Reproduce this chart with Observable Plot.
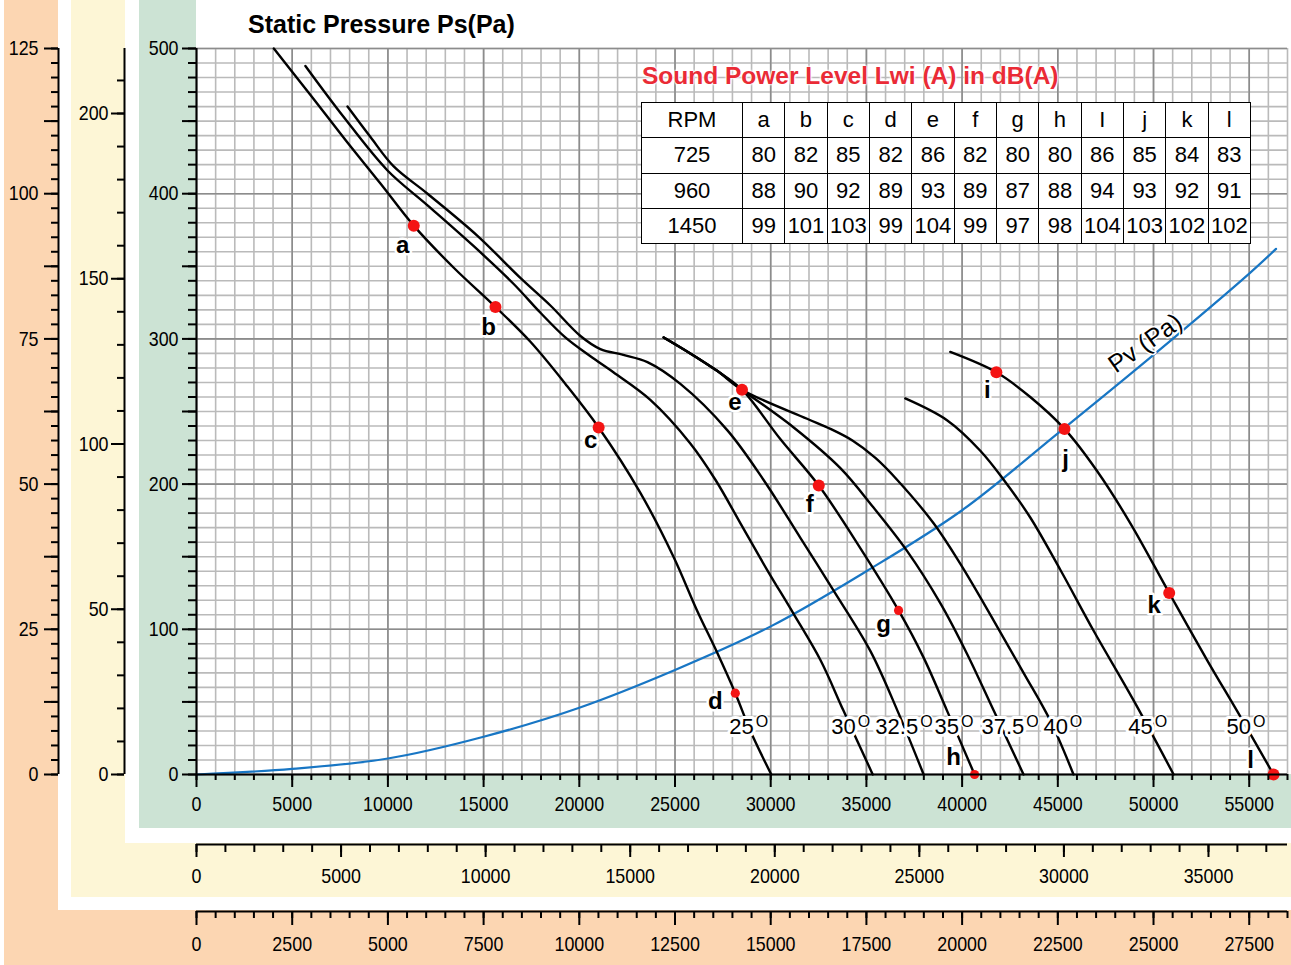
<!DOCTYPE html>
<html>
<head>
<meta charset="utf-8">
<script src="https://cdn.jsdelivr.net/npm/d3@7"></script>
<script src="https://cdn.jsdelivr.net/npm/@observablehq/plot@0.6"></script>
<style>
  html, body { margin: 0; padding: 0; background: #fff; }
  #wrap { position: relative; width: 1291px; height: 965px; overflow: hidden; background: #fff; }
  .bg { position: absolute; }
  .layer { position: absolute; left: 0; top: 0; pointer-events: none; }
  .layer svg { display: block; }
  #title { position: absolute; left: 248px; top: 12px; font: bold 25px/25px "Liberation Sans", Arial, sans-serif; color: #000; white-space: nowrap; }
  #lwiTitle { position: absolute; left: 642px; top: 64px; font: bold 24.5px/24.5px "Liberation Sans", Arial, sans-serif; color: #ea2b36; white-space: nowrap;
    text-shadow: 0 0 2px #fff, 0 0 2px #fff, 0 0 3px #fff, 0 0 3px #fff; }
  #lwiTable { position: absolute; left: 641px; top: 102px; width: 609px; border-collapse: collapse; table-layout: fixed; background: #fff;
    font: 22px "Liberation Sans", Arial, sans-serif; color: #000; }
  #lwiTable td { border: 1.5px solid #000; text-align: center; padding: 0; height: 34px; white-space: nowrap; overflow: visible; }
</style>
</head>
<body>
<div id="wrap">
  <div class="bg" style="left:4px;top:0;width:54px;height:965px;background:#fcd6b2"></div>
  <div class="bg" style="left:4px;top:910px;width:1287px;height:55px;background:#fcd6b2"></div>
  <div class="bg" style="left:71px;top:0;width:54px;height:897px;background:#fdf6d6"></div>
  <div class="bg" style="left:71px;top:843px;width:1220px;height:54px;background:#fdf6d6"></div>
  <div class="bg" style="left:139px;top:0;width:57px;height:828px;background:#cce3d4"></div>
  <div class="bg" style="left:139px;top:774px;width:1152px;height:54px;background:#cce3d4"></div>
  <div id="layers"></div>
  <div id="title">Static Pressure Ps(Pa)</div>
  <div id="lwiTitle">Sound Power Level Lwi (A) in dB(A)</div>
  <table id="lwiTable"></table>
</div>
<script>
// ---------------- DATA ----------------
// Fan curves: [air flow (m³/h), static pressure Ps (Pa)] for each blade angle
const curve25 = [[4040,500],[5955,468],[7783,437],[9611,407],[11350,378],[13440,349],[15620,322],[17446,298],[19274,269],[21010,239],[23190,194],[24920,150],[26150,113],[27200,84],[28150,56],[28940,30],[30030,0]];
const curve30 = [[5690,488],[7680,453],[9980,416],[12070,392],[14470,364],[16560,338],[17970,318],[19270,301],[20580,288],[21780,277],[23710,258],[25800,228],[27110,203],[28420,173],[29810,141],[31180,111],[32590,79],[33800,44],[35330,0]];
const curve32_5 = [[7890,460],[9090,439],[10290,419],[12070,400],[14680,371],[16920,342],[18490,323],[20060,302],[21100,293],[22300,289],[23560,284],[25280,269],[27740,237],[29620,203],[31550,163],[33270,127],[35210,85],[36620,44],[37990,0]];
const curve35 = [[24410,301],[25800,290],[27200,278],[28500,265],[30500,231],[32510,199],[34580,158],[36680,113],[37970,81],[39210,44],[40650,0]];
const curve37_5 = [[24410,301],[25800,290],[27200,278],[28500,265],[31200,239],[33640,211],[35360,184],[37120,154],[38860,118],[40260,83],[41650,44],[43210,0]];
const curve40 = [[24410,301],[25800,290],[27200,278],[28500,265],[31900,245],[33120,238],[34270,230],[35470,218],[36600,203],[38510,173],[39910,145],[41650,106],[43210,70],[44610,37],[45820,0]];
const curve45 = [[37030,259],[39210,244],[40950,223],[42170,203],[43560,177],[45130,141],[46870,99],[48960,51],[51050,0]];
const curve50 = [[39380,291],[41790,277],[43560,260],[45350,238],[47050,209],[48790,173],[50820,125],[52790,79],[54530,40],[56270,0]];
const curveAngles = ["25","30","32.5","35","37.5","40","45","50"];
const curveSeries = [curve25, curve30, curve32_5, curve35, curve37_5, curve40, curve45, curve50];

// Velocity pressure curve Pv (Pa)
const pvFlow = [0,5000,10000,15000,20000,25000,30000,35000,40000,45000,50000,55000,56400];
const pvPa   = [0,3.9,11,26,46,72,102,140,182,235,289,345,362];
const pvLabel = {x: 49570, y: 297, text: "Pv (Pa)"};

// Operating points a..l
const pointNames = ["a","b","c","d","e","f","g","h","i","j","k","l"];
const pointFlow  = [11350,15620,21010,28150,28500,32510,36680,40650,41790,45350,50820,56270];
const pointPs    = [378,322,239,56,265,199,113,0,277,238,125,0];

// Sound power table
const tableHeader = ["RPM","a","b","c","d","e","f","g","h","I","j","k","l"];
const rpmValues = ["725","960","1450"];
const lwi725  = [80,82,85,82,86,82,80,80,86,85,84,83];
const lwi960  = [88,90,92,89,93,89,87,88,94,93,92,91];
const lwi1450 = [99,101,103,99,104,99,97,98,104,103,102,102];

// Axis tick labels
const flowTicks = [0,5000,10000,15000,20000,25000,30000,35000,40000,45000,50000,55000];
const psTicks = [0,100,200,300,400,500];
const yellowFlowTicks = [0,5000,10000,15000,20000,25000,30000,35000];
const yellowPsTicks = [0,50,100,150,200];
const peachFlowTicks = [0,2500,5000,7500,10000,12500,15000,17500,20000,22500,25000,27500];
const peachPsTicks = [0,25,50,75,100,125];

// ---------------- LAYOUT / STYLE ----------------
const W = 1291, H = 965;
const SANS = '"Liberation Sans", Arial, sans-serif';
const CONDENSE = 0.85;
const labelOffsets = {a:[-11,20], b:[-7,20], c:[-8,13], d:[-20,8], e:[-7,13], f:[-9,19], g:[-15,14], h:[-21,-17], i:[-9,18], j:[1,30], k:[-15,12], l:[-23,-14]};
const smallDots = new Set(["d","g","h"]);
const angleLabelLevel = 33;
const angleLabelNudge = {"37.5": 9, "40": 10};
const supGap = 2;

const ctx = document.createElement("canvas").getContext("2d");
function tw(s, font) { ctx.font = font; return ctx.measureText(s).width; }
function crossAt(pts, level) {
  for (let i = 1; i < pts.length; i++) {
    const [x0, y0] = pts[i-1], [x1, y1] = pts[i];
    if ((y0 - level) * (y1 - level) <= 0 && y0 !== y1) return x0 + (level - y0) * (x1 - x0) / (y1 - y0);
  }
  return pts[pts.length-1][0];
}

const curveRows = curveAngles.flatMap((a, i) => curveSeries[i].map(([x, y]) => ({angle: a, x, y})));
const pvRows = pvFlow.map((x, i) => ({x, y: pvPa[i]}));
const pointRows = pointNames.map((name, i) => ({name, x: pointFlow[i], y: pointPs[i]}));

const baseStyle = {background: "none", overflow: "visible", fontFamily: SANS, fontSize: "21px", color: "black"};

// point labels
const pointLabelMarks = pointRows.map(p => Plot.text([p], {
  x: "x", y: "y", text: "name", dx: labelOffsets[p.name][0], dy: labelOffsets[p.name][1],
  fontFamily: SANS, fontSize: 24, fontWeight: "bold", fill: "black", stroke: "white", strokeWidth: 5, paintOrder: "stroke"
}));

// angle labels (number + superscript O), centered on curve crossing
const numFont = `22px ${SANS}`, supFont = `16px ${SANS}`;
const angleNums = [], angleSups = [];
curveAngles.forEach((a, i) => {
  const x = crossAt(curveSeries[i], angleLabelLevel);
  const d = [{x, y: angleLabelLevel, t: a, o: "O"}];
  const wn = tw(a, numFont), wo = tw("O", supFont);
  const left = -(wn + supGap + wo) / 2 + (angleLabelNudge[a] || 0);
  angleNums.push(Plot.text(d, {x: "x", y: "y", text: "t", textAnchor: "start", dx: left, fontFamily: SANS, fontSize: 22,
    fill: "black", stroke: "white", strokeWidth: 6, paintOrder: "stroke"}));
  angleSups.push(Plot.text(d, {x: "x", y: "y", text: "o", textAnchor: "start", dx: left + wn + supGap, dy: -5, fontFamily: SANS, fontSize: 16,
    fill: "black", stroke: "white", strokeWidth: 3, paintOrder: "stroke"}));
});

const main = Plot.plot({
  width: W, height: H,
  marginLeft: 196, marginRight: 4, marginTop: 48, marginBottom: 191,
  x: {domain: [0, 57000], label: null},
  y: {domain: [0, 500], label: null},
  r: {type: "identity"},
  style: baseStyle,
  marks: [
    Plot.ruleX(d3.range(0, 57001, 1000), {stroke: "#bababa", strokeWidth: 1.6}),
    Plot.ruleY(d3.range(0, 501, 10), {stroke: "#bababa", strokeWidth: 1.6}),
    Plot.ruleX(d3.range(0, 57001, 5000), {stroke: "#8c8c8c", strokeWidth: 1.6}),
    Plot.ruleY(psTicks, {stroke: "#8c8c8c", strokeWidth: 1.6}),
    Plot.line(pvRows, {x: "x", y: "y", stroke: "#1876c4", strokeWidth: 2.2, curve: "catmull-rom"}),
    Plot.line(curveRows, {x: "x", y: "y", z: "angle", stroke: "black", strokeWidth: 2.4, curve: "catmull-rom"}),
    Plot.dot(pointRows, {x: "x", y: "y", r: d => smallDots.has(d.name) ? 4.6 : 6, fill: "#f41414"}),
    ...pointLabelMarks,
    ...angleNums,
    ...angleSups,
    Plot.text([pvLabel], {x: "x", y: "y", text: "text", rotate: -35, fontFamily: SANS, fontSize: 25, fill: "black", stroke: "white", strokeWidth: 3, paintOrder: "stroke"}),
    Plot.ruleX([0], {stroke: "black", strokeWidth: 2}),
    Plot.ruleY([0], {stroke: "black", strokeWidth: 2}),
    Plot.axisX(d3.range(0, 57001, 1000), {tickSize: 6, tickFormat: () => "", strokeWidth: 2}),
    Plot.axisX(flowTicks, {tickSize: 13, tickPadding: 9, strokeWidth: 2, fontSize: 21, fontFamily: SANS, tickFormat: d => String(d)}),
    Plot.axisY(d3.range(0, 501, 10), {tickSize: 8, tickFormat: () => "", strokeWidth: 2}),
    Plot.axisY(d3.range(0, 501, 50), {tickSize: 14, tickPadding: 4, strokeWidth: 2, fontSize: 21, fontFamily: SANS, tickFormat: d => psTicks.includes(d) ? String(d) : ""})
  ]
});

// secondary vertical axis helper
function vAxis(left, domainMax, minorStep, midStep, labels, minorSize, majorSize, pad) {
  return Plot.plot({
    width: W, height: H, marginLeft: left, marginRight: W - left - 1, marginTop: 48, marginBottom: 191,
    x: {domain: [0, 1], axis: null, label: null},
    y: {domain: [0, domainMax], label: null},
    style: baseStyle,
    marks: [
      Plot.ruleX([0], {stroke: "black", strokeWidth: 2}),
      Plot.axisY(d3.range(0, domainMax + 0.001, minorStep), {tickSize: minorSize, tickFormat: () => "", strokeWidth: 2}),
      Plot.axisY(d3.range(0, domainMax + 0.001, midStep), {tickSize: majorSize, tickPadding: pad, strokeWidth: 2, fontSize: 21, fontFamily: SANS,
        tickFormat: d => labels.includes(d) ? String(d) : ""})
    ]
  });
}
// secondary horizontal axis helper
function hAxis(bottomY, domainMax, minorStep, labels, minorSize, majorSize, pad) {
  return Plot.plot({
    width: W, height: H, marginLeft: 196, marginRight: 4, marginTop: bottomY - 1, marginBottom: H - bottomY,
    x: {domain: [0, domainMax], label: null},
    y: {domain: [0, 1], axis: null, label: null},
    style: baseStyle,
    marks: [
      Plot.ruleY([0], {stroke: "black", strokeWidth: 2}),
      Plot.axisX(d3.range(0, domainMax + 0.001, minorStep), {tickSize: minorSize, tickFormat: () => "", strokeWidth: 2}),
      Plot.axisX(labels, {tickSize: majorSize, tickPadding: pad, strokeWidth: 2, fontSize: 21, fontFamily: SANS, tickFormat: d => String(d)})
    ]
  });
}

const yellowY = vAxis(124, 219.67, 10, 50, yellowPsTicks, 7, 13, 3);
const peachY = vAxis(58, 125, 2.5, 12.5, peachPsTicks, 7, 14, 6);
const yellowX = hAxis(844, 37733, 1000, yellowFlowTicks, 8, 13, 11);
const peachX = hAxis(911, 28500, 500, peachFlowTicks, 7, 14, 11);

const layers = document.getElementById("layers");
[main, yellowY, peachY, yellowX, peachX].forEach(svg => {
  const div = document.createElement("div");
  div.className = "layer";
  div.appendChild(svg);
  layers.appendChild(div);
});

// condensed look of the original's narrow typeface for tick labels
function condense(svg, selector, k) {
  svg.querySelectorAll(selector).forEach(t => {
    const L = t.getComputedTextLength();
    if (L > 0) { t.setAttribute("textLength", (L * k).toFixed(2)); t.setAttribute("lengthAdjust", "spacingAndGlyphs"); }
  });
}
[main, yellowY, peachY, yellowX, peachX].forEach(svg => condense(svg, 'g[aria-label$="tick label"] text', CONDENSE));

// table
const table = document.getElementById("lwiTable");
const colgroup = document.createElement("colgroup");
tableHeader.forEach((h, i) => {
  const col = document.createElement("col");
  col.style.width = i === 0 ? "101px" : ((609 - 101) / 12) + "px";
  colgroup.appendChild(col);
});
table.appendChild(colgroup);
const rows = [tableHeader, [rpmValues[0], ...lwi725], [rpmValues[1], ...lwi960], [rpmValues[2], ...lwi1450]];
rows.forEach(r => {
  const tr = document.createElement("tr");
  tr.style.height = "35.3px";
  r.forEach(v => { const td = document.createElement("td"); td.textContent = v; tr.appendChild(td); });
  table.appendChild(tr);
});
</script>
</body>
</html>
